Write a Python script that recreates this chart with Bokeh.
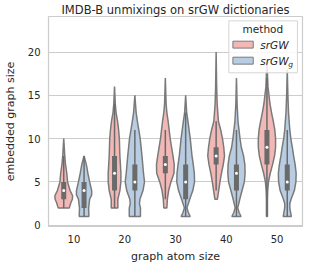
from bokeh.plotting import figure
from bokeh.models import FixedTicker, Label
from bokeh.embed import file_html
from bokeh.resources import INLINE

sizes = ["10", "20", "30", "40", "50"]
methods = ["srGW", "srGW_g"]

# violin outlines: y levels and half-widths (x units)
srgw_y = [
    [2, 2.6, 3, 3.4, 4, 5, 6, 7, 8, 10],
    [2, 3, 4, 5, 6, 8, 10, 11, 12, 13, 14, 16],
    [2, 3, 4, 5, 6, 7, 8, 10, 12, 13, 14, 17],
    [3, 4, 5, 6, 7, 8, 9, 10, 11, 12, 14, 16, 20],
    [1, 3, 4, 5, 6, 7, 8, 9, 10, 11, 12, 13, 14, 15, 16, 19],
]
srgw_w = [
    [0.11, 0.14, 0.17, 0.175, 0.125, 0.075, 0.06, 0.035, 0.02, 0.0],
    [0.065, 0.065, 0.105, 0.125, 0.125, 0.105, 0.095, 0.08, 0.06, 0.03, 0.015, 0.0],
    [0.03, 0.04, 0.065, 0.11, 0.17, 0.175, 0.15, 0.095, 0.055, 0.03, 0.015, 0.0],
    [0.025, 0.05, 0.075, 0.105, 0.14, 0.165, 0.15, 0.125, 0.09, 0.045, 0.02, 0.01, 0.0],
    [0.01, 0.01, 0.015, 0.03, 0.065, 0.11, 0.15, 0.17, 0.17, 0.155, 0.125, 0.09, 0.06, 0.04, 0.02, 0.0],
]
srgwg_y = [
    [1, 2, 3, 3.5, 4, 5, 6, 7, 8],
    [1, 2, 2.5, 3, 4, 5, 6, 8, 10, 12, 13, 15],
    [1, 1.5, 2, 3, 4, 5, 6, 7, 8, 10, 12, 13, 15],
    [1, 1.5, 2, 3, 4, 5, 6, 7, 8, 9, 10, 12, 14, 17],
    [1, 2, 2.5, 3, 4, 5, 6, 7, 8, 9, 10, 11, 13, 15, 18],
]
srgwg_w = [
    [0.095, 0.09, 0.11, 0.15, 0.15, 0.11, 0.075, 0.045, 0.0],
    [0.11, 0.11, 0.09, 0.1, 0.16, 0.19, 0.17, 0.14, 0.105, 0.05, 0.025, 0.0],
    [0.09, 0.05, 0.025, 0.08, 0.14, 0.175, 0.17, 0.15, 0.125, 0.09, 0.045, 0.02, 0.0],
    [0.09, 0.05, 0.025, 0.065, 0.11, 0.155, 0.17, 0.165, 0.14, 0.095, 0.07, 0.03, 0.012, 0.0],
    [0.08, 0.05, 0.05, 0.075, 0.14, 0.17, 0.175, 0.155, 0.125, 0.1, 0.07, 0.05, 0.025, 0.012, 0.0],
]

# inner box statistics
srgw_q1 = [3, 4, 6, 7, 7]
srgw_med = [4, 6, 7, 8, 9]
srgw_q3 = [5, 8, 8, 9, 11]
srgw_lo = [2, 2, 3, 4, 1]
srgw_hi = [8, 14, 11, 12, 17]

srgwg_q1 = [2, 4, 3, 4, 4]
srgwg_med = [4, 5, 5, 6, 5]
srgwg_q3 = [5, 7, 7, 7, 7]
srgwg_lo = [1, 1, 1, 1, 1]
srgwg_hi = [8, 11, 13, 11, 11]

colors = ["#f2b8b6", "#b8cde2"]
edge = "#7a7a7a"
boxc = "#6a6a6a"
txt = "#262626"
offset = 0.2

p = figure(width=306, height=265, x_range=(-0.5, 4.5), y_range=(-0.15, 24.1),
           output_backend="svg", toolbar_location=None,
           title="IMDB-B unmixings on srGW dictionaries")
p.title.text_font = "DejaVu Sans"
p.title.text_font_size = "11.5px"
p.title.text_font_style = "normal"
p.title.text_color = txt
p.title.align = "center"
p.title.standoff = 0
p.title.offset = 0
p.min_border_top = 0
p.min_border_left = 2
p.min_border_right = 4
p.min_border_bottom = 6

p.background_fill_color = "white"
p.outline_line_color = "#cccccc"
p.outline_line_width = 1.2
p.xgrid.visible = False
p.ygrid.grid_line_color = "#cccccc"
p.ygrid.grid_line_width = 1.2

for ax in (p.xaxis, p.yaxis):
    ax.axis_line_color = None
    ax.major_tick_line_color = None
    ax.minor_tick_line_color = None
    ax.major_tick_out = 0
    ax.major_tick_in = 0
    ax.major_label_text_font = "DejaVu Sans"
    ax.major_label_text_font_size = "10px"
    ax.major_label_text_color = txt
    ax.axis_label_text_font = "DejaVu Sans"
    ax.axis_label_text_font_size = "11px"
    ax.axis_label_text_font_style = "normal"
    ax.axis_label_text_color = txt

p.xaxis.ticker = FixedTicker(ticks=list(range(len(sizes))))
p.xaxis.major_label_overrides = {i: s for i, s in enumerate(sizes)}
p.xaxis.major_label_standoff = 8
p.xaxis.axis_label = "graph atom size"
p.xaxis.axis_label_standoff = 4
p.yaxis.ticker = FixedTicker(ticks=[0, 5, 10, 15, 20])
p.yaxis.major_label_standoff = 8
p.yaxis.axis_label = "embedded graph size"
p.yaxis.axis_label_standoff = 8

groups = [
    (srgw_y, srgw_w, srgw_q1, srgw_med, srgw_q3, srgw_lo, srgw_hi, -offset, colors[0]),
    (srgwg_y, srgwg_w, srgwg_q1, srgwg_med, srgwg_q3, srgwg_lo, srgwg_hi, offset, colors[1]),
]

for ys, ws, q1, med, q3, lo, hi, off, col in groups:
    for i in range(len(sizes)):
        c = i + off
        yv = ys[i]
        wv = ws[i]
        px = [c + w for w in wv] + [c - w for w in reversed(wv)]
        py = list(yv) + list(reversed(yv))
        p.patch(px, py, fill_color=col, line_color=edge, line_width=1.5)
    xs = [i + off for i in range(len(sizes))]
    p.segment(x0=xs, y0=lo, x1=xs, y1=hi, line_color=boxc, line_width=1.5)
    p.segment(x0=xs, y0=q1, x1=xs, y1=q3, line_color=boxc, line_width=5)
    p.scatter(x=xs, y=med, size=3, fill_color="white", line_color=None)

# legend (drawn manually to allow the subscript)
p.quad(left=[3.05], right=[4.4], bottom=[17.6], top=[23.6],
       fill_color="white", fill_alpha=0.85, line_color="#d5d5d5", line_width=1)
p.add_layout(Label(x=3.72, y=22.6, text="method", text_align="center",
                   text_baseline="middle", text_font="DejaVu Sans",
                   text_font_size="10.5px", text_color=txt))
p.quad(left=[3.13], right=[3.53], bottom=[20.45], top=[21.25],
       fill_color=colors[0], line_color=edge, line_width=1)
p.quad(left=[3.13], right=[3.53], bottom=[18.6], top=[19.4],
       fill_color=colors[1], line_color=edge, line_width=1)
p.add_layout(Label(x=3.67, y=20.85, text="srGW", text_baseline="middle",
                   text_font="DejaVu Sans", text_font_size="10.5px",
                   text_font_style="italic", text_color=txt))
p.add_layout(Label(x=3.67, y=19.0, text="srGW", text_baseline="middle",
                   text_font="DejaVu Sans", text_font_size="10.5px",
                   text_font_style="italic", text_color=txt))
p.add_layout(Label(x=3.67, y=19.0, x_offset=28, y_offset=-4, text="g",
                   text_baseline="middle", text_font="DejaVu Sans",
                   text_font_size="7.5px", text_font_style="italic",
                   text_color=txt))

open("out.html", "w").write(file_html(p, INLINE))
